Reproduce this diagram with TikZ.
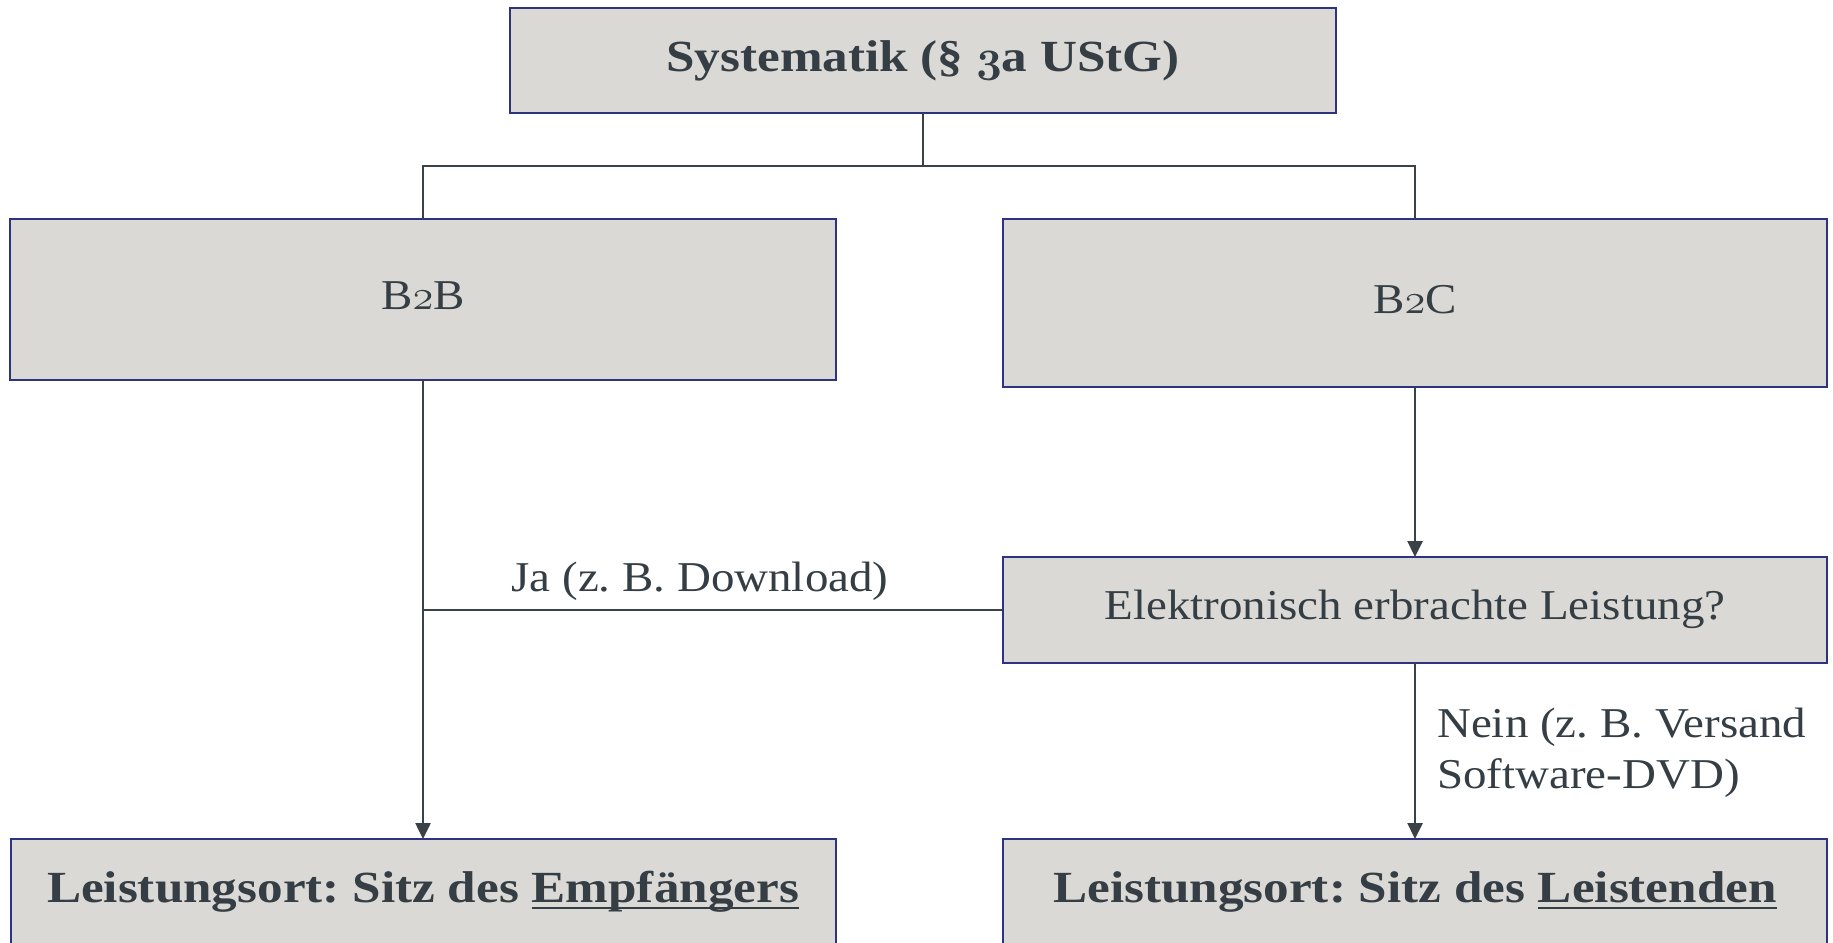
\RequirePackage{fix-cm}
\documentclass[tikz,border=0pt]{standalone}
\usepackage{fontspec}
\setmainfont{Liberation Serif}[FakeStretch=1.105,BoldFeatures={FakeStretch=1.15}]
\usetikzlibrary{arrows.meta}
\definecolor{boxfill}{HTML}{DAD9D5}
\definecolor{boxline}{HTML}{2E3380}
\definecolor{txt}{HTML}{343E44}
\definecolor{conncol}{HTML}{3A4147}
\frenchspacing
\newcommand\osf[1]{{\fontencoding{OML}\fontfamily{cmm}\fontshape{it}\selectfont #1}}
\newcommand\myul[1]{\setbox0\hbox{#1}\rlap{\color{txt}\rule[-7pt]{\wd0}{2.5pt}}\box0}
\newcommand\regsize{\fontsize{42.5pt}{51pt}\selectfont}
\newcommand\boldsize{\fontsize{44.5pt}{53pt}\selectfont\bfseries}
\tikzset{
  box/.style={draw=boxline, line width=2pt, fill=boxfill, inner sep=0pt, outer sep=0pt,
    anchor=north, text=txt, font=\regsize},
  boldbox/.style={box, font=\boldsize},
  conn/.style={draw=conncol, line width=2.5pt},
  arr/.style={conn, -{Triangle[length=16pt,width=15pt]}},
  lbl/.style={inner sep=0pt, text=txt, font=\regsize}
}
\begin{document}
\begin{tikzpicture}[x=1pt,y=-1pt]
\useasboundingbox (0,0) rectangle (1833,942);
\node[boldbox, minimum width=826pt, text height=63pt, text depth=42pt] (top) at (923,8) {Systematik (§ \osf{3}a UStG)};
\node[box, minimum width=826pt, text height=90pt, text depth=71pt] (b2b) at (423,219) {B\osf{2}B};
\node[box, minimum width=824pt, text height=94pt, text depth=74pt] (b2c) at (1415,219) {B\osf{2}C};
\node[box, minimum width=824pt, text height=62pt, text depth=44pt] (elek) at (1415,557) {Elektronisch erbrachte Leistung?};
\node[boldbox, minimum width=825pt, text height=63pt, text depth=48pt] (lbot) at (423,839) {Leistungsort: Sitz des \myul{Empfängers}};
\node[boldbox, minimum width=824pt, text height=63pt, text depth=48pt] (rbot) at (1415,839) {Leistungsort: Sitz des \myul{Leistenden}};
\coordinate (split) at (923,166);
\draw[conn] (top.south) -- (split);
\draw[conn] (b2b.north) |- (split) -| (b2c.north);
\draw[arr] (b2c.south) -- (elek.north);
\draw[arr] (b2b.south) -- (lbot.north);
\draw[conn] (elek.west) -- (elek.west -| b2b.south);
\draw[arr] (elek.south) -- (rbot.north);
\node[lbl, anchor=base] (ja) at (700,591) {Ja (z. B. Download)};
\node[lbl, anchor=base west] (nein1) at (1437,737) {Nein (z. B. Versand};
\node[lbl, anchor=base west] (nein2) at (1437,788) {Software-DVD)};
\end{tikzpicture}
\end{document}
